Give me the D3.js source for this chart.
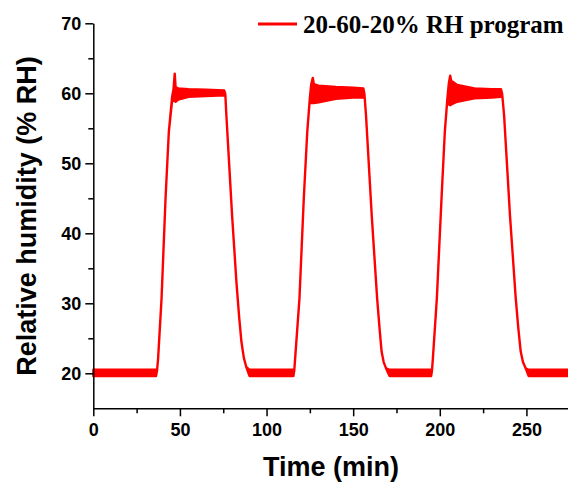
<!DOCTYPE html>
<html>
<head>
<meta charset="utf-8">
<script src="https://cdn.jsdelivr.net/npm/d3@7"></script>
<style>
  html, body { margin: 0; padding: 0; background: #fff; }
  svg { display: block; }
</style>
</head>
<body>
<svg id="chart" width="568" height="483"></svg>
<script>
// Humidity program trace: time (min) with the lower and upper edge of the
// recorded signal band at each point (equal where the trace is a single line).
const timeMin = [
  0, 36.2, 36.8, 37.4, 39.4, 41.7, 43.6, 45.5, 46.3, 47.0, 47.5, 49, 55, 65, 75.6,
  76.2, 76.8, 80.1, 82.6, 84.2, 85.5, 86.9, 88.3, 90.2,
  115.5, 116.0, 116.5, 119.0, 121.5, 123.5, 125.0, 125.8, 126.7, 127.3, 130, 140, 150, 155.9,
  156.5, 157.4, 160.7, 163.8, 165.2, 166.4, 167.6, 169.0, 171.0,
  195.0, 195.5, 196.0, 198.3, 201.0, 202.9, 204.4, 205.2, 206.0, 206.6, 210, 220, 230, 235.3,
  236.0, 237.1, 240.5, 243.8, 245.3, 246.7, 248.0, 249.6, 251.3,
  274
];
const rhHigh = [
  20.5, 20.5, 20.4, 22.1, 30.7, 45.0, 54.5, 59.5, 60.6, 62.8, 60.9, 60.7, 60.6, 60.5, 60.4,
  59.9, 56.9, 42.6, 33.1, 28.0, 24.5, 22.2, 20.9, 20.5,
  20.5, 20.4, 22.1, 30.7, 45.0, 54.5, 59.3, 61.3, 62.2, 61.3, 61.1, 60.9, 60.8, 60.7,
  59.9, 56.9, 42.6, 30.8, 26.5, 23.1, 21.6, 20.7, 20.5,
  20.5, 20.4, 22.1, 30.7, 45.0, 54.5, 59.3, 61.4, 62.5, 61.8, 61.2, 60.7, 60.6, 60.6,
  59.9, 56.9, 42.6, 30.8, 26.5, 23.1, 21.6, 20.7, 20.5,
  20.5
];
const rhLow = [
  19.6, 19.6, 20.4, 22.1, 30.7, 45.0, 54.5, 59.0, 58.9, 59.0, 58.8, 59.1, 59.5, 59.6, 59.7,
  59.9, 56.9, 42.6, 33.1, 28.0, 24.5, 22.2, 20.9, 19.6,
  19.6, 20.4, 22.1, 30.7, 45.0, 54.5, 59.3, 58.6, 58.6, 58.6, 58.7, 59.2, 59.4, 59.4,
  59.9, 56.9, 42.6, 30.8, 26.5, 23.1, 21.6, 20.7, 19.6,
  19.6, 20.4, 22.1, 30.7, 45.0, 54.5, 59.3, 58.4, 58.3, 58.4, 58.8, 59.3, 59.4, 59.5,
  59.9, 56.9, 42.6, 30.8, 26.5, 23.1, 21.6, 20.7, 19.6,
  19.6
];

const xMajorTicks = [0, 50, 100, 150, 200, 250];
const xMinorTicks = [25, 75, 125, 175, 225];
const yMajorTicks = [20, 30, 40, 50, 60, 70];
const yMinorTicks = [25, 35, 45, 55, 65];

const legendLabel = "20-60-20% RH program";
const xTitle = "Time (min)";
const yTitle = "Relative humidity (% RH)";

const svg = d3.select("#chart");
const plotLeft = 93.3, plotRight = 568, plotTop = 23.3, plotBottom = 408.3;

const x = d3.scaleLinear().domain([0, 274]).range([plotLeft, plotRight]);
const y = d3.scaleLinear().domain([15, 70]).range([plotBottom, plotTop]);

const tickFont = "bold 18px 'Liberation Sans', Arial, sans-serif";

// Signal band
const pts = timeMin.map((t, i) => ({ t, lo: rhLow[i], hi: rhHigh[i] }));
const band = d3.area()
  .x(d => x(d.t))
  .y0(d => y(d.lo))
  .y1(d => y(d.hi));

svg.append("path")
  .datum(pts)
  .attr("d", band)
  .attr("fill", "#ff0000")
  .attr("stroke", "#ff0000")
  .attr("stroke-width", 2.4)
  .attr("stroke-linejoin", "round");

// Axes
function styleAxis(g) {
  g.selectAll("path.domain").attr("stroke", "#000").attr("stroke-width", 1.5);
  g.selectAll(".tick line").attr("stroke", "#000").attr("stroke-width", 1.5);
  g.selectAll(".tick text").style("font", tickFont).attr("fill", "#000");
}

svg.append("g")
  .attr("transform", `translate(0,${plotBottom})`)
  .call(d3.axisBottom(x).tickValues(xMajorTicks).tickSize(8).tickPadding(7).tickSizeOuter(0))
  .call(styleAxis);

svg.append("g")
  .attr("transform", `translate(0,${plotBottom})`)
  .call(d3.axisBottom(x).tickValues(xMinorTicks).tickSize(5).tickFormat("").tickSizeOuter(0))
  .call(styleAxis)
  .select("path.domain").remove();

svg.append("g")
  .attr("transform", `translate(${plotLeft},0)`)
  .call(d3.axisLeft(y).tickValues(yMajorTicks).tickSize(8).tickPadding(4).tickSizeOuter(0))
  .call(styleAxis);

svg.append("g")
  .attr("transform", `translate(${plotLeft},0)`)
  .call(d3.axisLeft(y).tickValues(yMinorTicks).tickSize(5).tickFormat("").tickSizeOuter(0))
  .call(styleAxis)
  .select("path.domain").remove();

// Axis titles
svg.append("text")
  .attr("x", 331)
  .attr("y", 476)
  .attr("text-anchor", "middle")
  .style("font", "bold 27px 'Liberation Sans', Arial, sans-serif")
  .text(xTitle);

svg.append("text")
  .attr("transform", "translate(36,216) rotate(-90)")
  .attr("text-anchor", "middle")
  .style("font", "bold 27px 'Liberation Sans', Arial, sans-serif")
  .text(yTitle);

// Legend
svg.append("line")
  .attr("x1", 258).attr("x2", 297)
  .attr("y1", 24).attr("y2", 24)
  .attr("stroke", "#ff0000")
  .attr("stroke-width", 3);

svg.append("text")
  .attr("x", 303)
  .attr("y", 33)
  .style("font", "bold 25px 'Liberation Serif', 'Times New Roman', serif")
  .text(legendLabel);
</script>
</body>
</html>
